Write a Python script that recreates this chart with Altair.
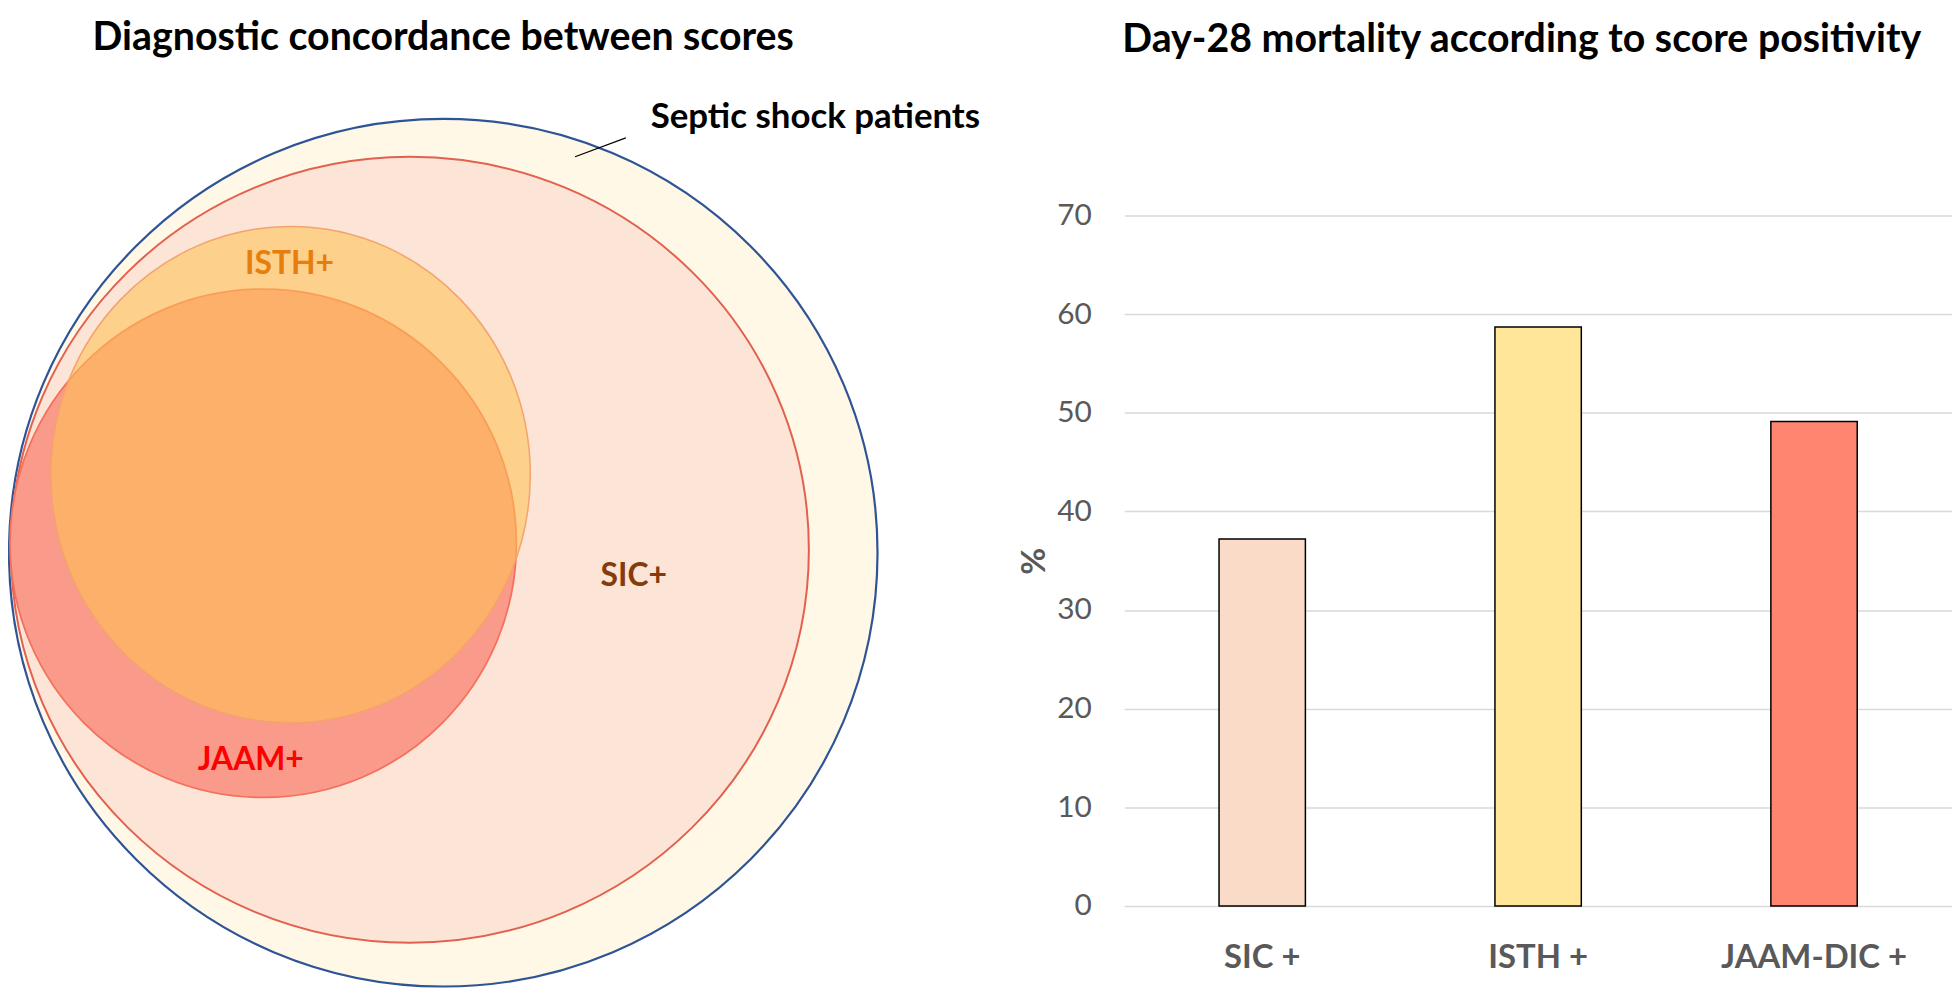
import altair as alt
import pandas as pd

# ---------------- Venn diagram (diagram units = reference pixels) ----------------
venn_sets = ["Septic shock patients", "SIC+", "JAAM+", "ISTH+"]
venn_cx = [439.5, 406.0, 258.5, 286.0]
venn_cy = [553.0, 550.0, 543.5, 474.5]
venn_rx = [436.5, 401.0, 254.5, 241.0]
venn_ry = [436.0, 395.0, 255.5, 249.5]

label_text = ["Septic shock patients", "SIC+", "ISTH+", "JAAM+"]
label_x = [648, 631, 285, 246]
label_y = [126, 586, 273, 771]

leader_x = [572]
leader_y = [155]
leader_x2 = [623]
leader_y2 = [136]

# ---------------- Bar chart ----------------
categories = ["SIC +", "ISTH +", "JAAM-DIC +"]
mortality = [37.2, 58.7, 49.1]

# ---------------- styles ----------------
FONT = "Lato"
fill_colors = ["#FFF8E6", "#FCE4D6", "#FA9A8A", "#FDC054"]
stroke_colors = ["#2F5496", "#E2604E", "#F5705C", "#F4A36C"]
stroke_widths = [2.2, 2.0, 1.8, 1.5]
fill_opac = [1.0, 1.0, 1.0, 0.575]
label_colors = ["#000000", "#843C0C", "#E67E0E", "#FF0000"]
bar_colors = ["#FADBC8", "#FFE699", "#FF8570"]


def ellipse_path(rx, ry):
    m = max(rx, ry)
    a, b = rx / m, ry / m
    return (f"M{-a:.4f},0A{a:.4f},{b:.4f},0,1,0,{a:.4f},0"
            f"A{a:.4f},{b:.4f},0,1,0,{-a:.4f},0Z")


venn_df = pd.DataFrame({
    "set": venn_sets,
    "cx": venn_cx,
    "cy": venn_cy,
    "path": [ellipse_path(a, b) for a, b in zip(venn_rx, venn_ry)],
    "size": [(2 * max(a, b)) ** 2 for a, b in zip(venn_rx, venn_ry)],
    "sw": stroke_widths,
    "fo": fill_opac,
})

lab_df = pd.DataFrame({"label": label_text, "x": label_x, "y": label_y})
lead_df = pd.DataFrame({"x": leader_x, "y": leader_y, "x2": leader_x2, "y2": leader_y2})
bar_df = pd.DataFrame({"score": categories, "mortality": mortality})

VX0, VX1 = 3, 876
PY0, PY1 = 214, 908
xs = alt.Scale(domain=[VX0, VX1], nice=False, zero=False)
ys = alt.Scale(domain=[PY0, PY1], nice=False, zero=False, reverse=True)

circles = alt.Chart(venn_df).mark_point(filled=True, opacity=1).encode(
    x=alt.X("cx:Q", scale=xs, axis=None),
    y=alt.Y("cy:Q", scale=ys, axis=None),
    shape=alt.Shape("path:N", scale=None),
    size=alt.Size("size:Q", scale=None),
    fill=alt.Fill("set:N", scale=alt.Scale(domain=venn_sets, range=fill_colors), legend=None),
    stroke=alt.Stroke("set:N", scale=alt.Scale(domain=venn_sets, range=stroke_colors), legend=None),
    strokeWidth=alt.StrokeWidth("sw:Q", scale=None),
    fillOpacity=alt.FillOpacity("fo:Q", scale=None),
)

leader = alt.Chart(lead_df).mark_rule(color="#000000", strokeWidth=1.2).encode(
    x=alt.X("x:Q", scale=xs, axis=None),
    y=alt.Y("y:Q", scale=ys, axis=None),
    x2="x2:Q",
    y2="y2:Q",
)

lab_color = alt.Color("label:N", scale=alt.Scale(domain=label_text, range=label_colors), legend=None)

septic_label = alt.Chart(lab_df).transform_filter(
    alt.datum.label == "Septic shock patients"
).mark_text(align="left", baseline="alphabetic", font=FONT, fontWeight="bold", fontSize=35).encode(
    x=alt.X("x:Q", scale=xs, axis=None),
    y=alt.Y("y:Q", scale=ys, axis=None),
    text="label:N",
    color=lab_color,
)

set_labels = alt.Chart(lab_df).transform_filter(
    alt.datum.label != "Septic shock patients"
).mark_text(align="center", baseline="alphabetic", font=FONT, fontWeight="bold", fontSize=32).encode(
    x=alt.X("x:Q", scale=xs, axis=None),
    y=alt.Y("y:Q", scale=ys, axis=None),
    text="label:N",
    color=lab_color,
)

TITLE_FS = 39.5

venn = alt.layer(circles, leader, septic_label, set_labels).properties(
    width=VX1 - VX0,
    height=PY1 - PY0,
    title=alt.TitleParams(
        "Diagnostic concordance between scores",
        anchor="start", frame="group", dx=84, offset=10.5, baseline="alphabetic",
        font=FONT, fontSize=TITLE_FS, fontWeight="bold", color="#000000",
    ),
)

bars = alt.Chart(bar_df).mark_bar(stroke="#000000", strokeWidth=1.5).encode(
    x=alt.X("score:N", sort=categories,
            scale=alt.Scale(paddingInner=0.687, paddingOuter=0.3435),
            axis=alt.Axis(title=None, labelAngle=0, ticks=False, domain=False,
                          labelFont=FONT, labelFontSize=33, labelFontWeight="bold",
                          labelColor="#595959", labelPadding=36, labelBaseline="top",
                          labelLimit=500)),
    y=alt.Y("mortality:Q", scale=alt.Scale(domain=[0, 70], nice=False),
            axis=alt.Axis(title="%", values=[0, 10, 20, 30, 40, 50, 60, 70],
                          ticks=False, domain=False, grid=True, gridColor="#D9D9D9",
                          gridWidth=1.5, labelFont=FONT, labelFontSize=30,
                          labelColor="#595959", labelPadding=33,
                          titleFont=FONT, titleFontSize=33, titleFontWeight="bold",
                          titleColor="#595959", titlePadding=5)),
    color=alt.Color("score:N", scale=alt.Scale(domain=categories, range=bar_colors), legend=None),
).properties(
    width=832,
    height=PY1 - PY0,
    title=alt.TitleParams(
        "Day-28 mortality according to score positivity",
        anchor="start", frame="group", dx=-2, offset=109.5, baseline="alphabetic",
        font=FONT, fontSize=TITLE_FS, fontWeight="bold", color="#000000",
    ),
)

chart = alt.hconcat(
    venn, bars, spacing=248, bounds="flush",
    padding={"left": -4, "top": 8, "right": 0, "bottom": 0},
).resolve_scale(
    color="independent", fill="independent", stroke="independent"
).configure_view(
    strokeWidth=0, stroke="transparent"
)

chart.save("out.html", embed_options={"renderer": "svg", "actions": False})
